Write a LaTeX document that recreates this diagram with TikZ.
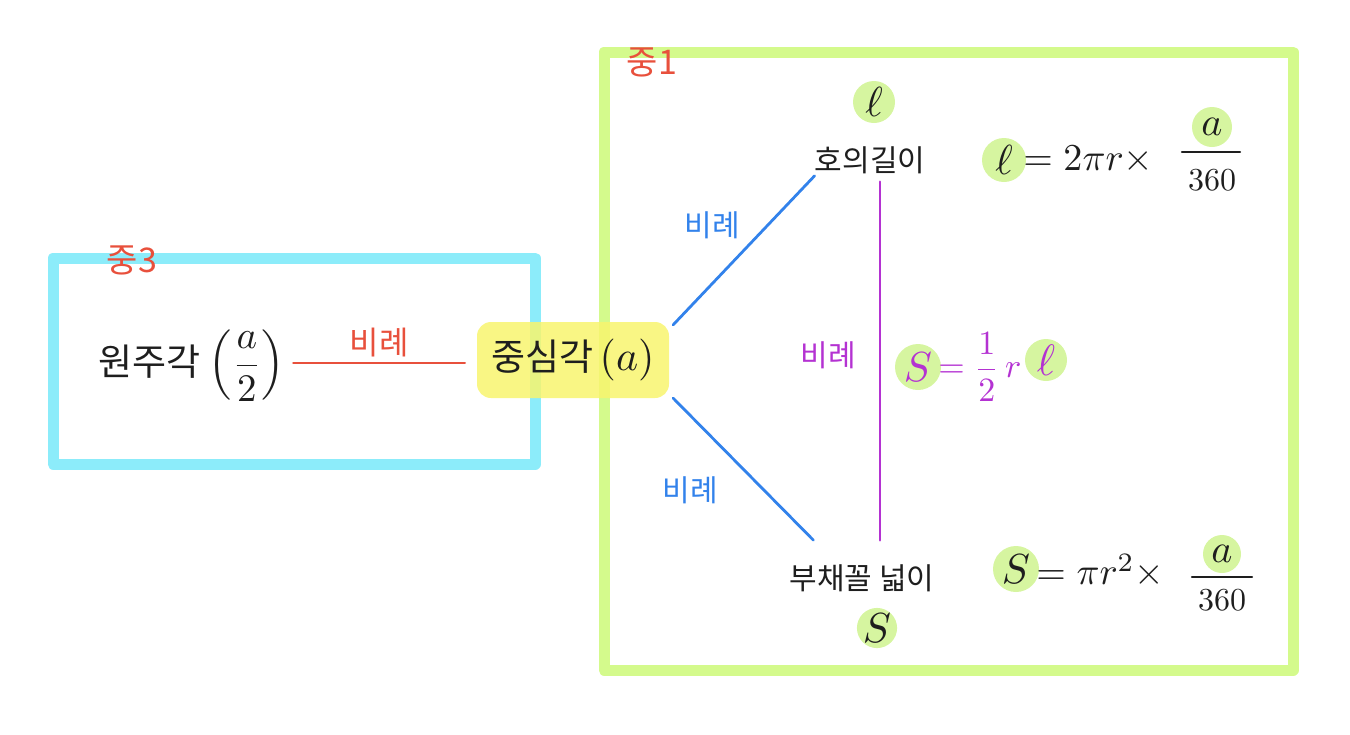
\documentclass[tikz,border=0pt]{standalone}
\usepackage{amsmath}
\usepackage{graphicx}
\usepackage{fontspec}
\setmainfont{Noto Sans CJK KR}
\usetikzlibrary{calc}
\newcommand\mth[2][3.8]{\scalebox{#1}{\normalsize$#2$}}
\definecolor{cyanbox}{RGB}{140,236,250}
\definecolor{limebox}{RGB}{212,250,140}
\definecolor{yellowhl}{RGB}{248,245,110}
\definecolor{greenhl}{RGB}{214,245,160}
\definecolor{redink}{RGB}{232,80,60}
\definecolor{blueink}{RGB}{50,130,235}
\definecolor{purpleink}{RGB}{180,50,210}
\definecolor{ink}{RGB}{30,30,30}
\tikzset{
  frame/.style={line width=11pt, line cap=round, line join=round},
  lbl/.style={text=ink, inner sep=2pt, font=\fontsize{30}{36}\selectfont},
  mlbl/.style={text=ink, inner sep=1pt},
  redlbl/.style={text=redink, inner sep=1pt, font=\fontsize{32}{38}\selectfont},
  bluelbl/.style={text=blueink, inner sep=1pt, font=\fontsize{30}{36}\selectfont},
  purplelbl/.style={text=purpleink, inner sep=1pt, font=\fontsize{30}{36}\selectfont},
  conn/.style={line width=2.8pt, line cap=round},
  fracbar/.style={line width=2.4pt, line cap=round},
  hlc/.style={circle, fill=greenhl, inner sep=0pt, minimum size=#1},
}
\begin{document}
\begin{tikzpicture}[x=1pt,y=-1pt]
\useasboundingbox (0,0) rectangle (1350,734);
% frames
\draw[frame, cyanbox] (53,258) rectangle (535,464);
\draw[frame, limebox] (604,52) rectangle (1293,670);
\node[redlbl, font=\fontsize{34}{40}\selectfont] (mid3) at (132,260) {중3};
\node[redlbl, font=\fontsize{34}{40}\selectfont] (mid1) at (652,62) {중1};
% central node with yellow highlight
\node[lbl, font=\fontsize{37}{42}\selectfont, fill=yellowhl, fill opacity=0.85, text opacity=1,
      rounded corners=14pt, minimum width=192pt, minimum height=76pt, inner sep=0pt] (center) at (573,360) {중심각\,\mth[4.2]{(a)}};
\node[lbl, font=\fontsize{37}{42}\selectfont, anchor=west] (wonju) at (96,366) {원주각 \mth[3.9]{\left(\dfrac{a}{2}\right)}};
% arc length
\node[lbl] (arc) at (870,160) {호의길이};
\node[mlbl, hlc=42pt] (arcsym) at (874,102) {\mth[4.2]{\ell}};
% sector area
\node[lbl] (sector) at (862,578) {부채꼴 넓이};
\node[mlbl, hlc=40pt] (secsym) at (877,628) {\mth[4.2]{S}};
% formula: l = 2 pi r x a/360
\node[mlbl, hlc=44pt] (fl) at (1004,160) {\mth[4.2]{\ell}};
\node[mlbl, anchor=west] (fl2) at ($(fl.east)+(-4,0)$) {\mth{=2\pi r\times}};
\node[mlbl, hlc=40pt] (fla) at (1212,127) {\mth[4]{a}};
\node[mlbl] (fl360) at (1212,180) {\mth[3.2]{360}};
\draw[fracbar, ink] ($(fla.south)+(-30,5)$) -- ($(fla.south)+(28,5)$);
% formula: S = 1/2 r l (purple)
\node[mlbl, text=purpleink, hlc=46pt] (hs) at (918,367) {\mth[4.2]{S}};
\node[mlbl, text=purpleink, anchor=west] (hs2) at ($(hs.east)+(-4,0)$) {\mth[3.4]{=\dfrac{1}{2}\,r}};
\node[mlbl, text=purpleink, hlc=42pt] (hl) at (1046,360) {\mth[4.4]{\ell}};
% formula: S = pi r^2 x a/360
\node[mlbl, hlc=46pt] (fs) at (1016,569) {\mth[4.2]{S}};
\node[mlbl, anchor=west] (fs2) at ($(fs.east)+(-4,2)$) {\mth{=\pi r^{2}\times}};
\node[mlbl, hlc=38pt] (fsa) at (1222,554) {\mth[4]{a}};
\node[mlbl] (fs360) at (1222,600) {\mth[3.2]{360}};
\draw[fracbar, ink] ($(fsa.south)+(-30,4)$) -- ($(fsa.south)+(30,4)$);
% connectors
\draw[conn, redink] ($(wonju.east)+(6,-3)$) -- ($(center.west)+(-12,3)$)
  node[redlbl, midway, above=4pt] (p1) {비례};
\draw[conn, blueink] ($(center.north east)+(4,3)$) -- ($(arc.south west)+(2,0)$);
\node[bluelbl] (p2) at (712,225) {비례};
\draw[conn, blueink] ($(center.south east)+(4,0)$) -- ($(sector.north west)+(26,-22)$);
\node[bluelbl] (p3) at (690,490) {비례};
\draw[conn, purpleink] ($(arc.south)+(10,6)$) -- ($(sector.north)+(18,-22)$);
\node[purplelbl] (p4) at (828,355) {비례};
\end{tikzpicture}
\end{document}
